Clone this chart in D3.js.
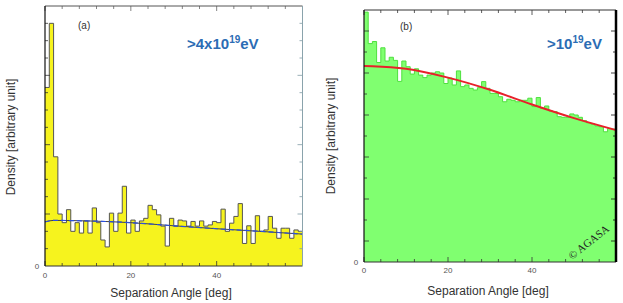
<!DOCTYPE html>
<html lang="en">
<head>
<meta charset="UTF-8">
<title>Separation angle distributions</title>
<script src="https://d3js.org/d3.v7.min.js"></script>
<style>
  body { margin: 0; background: #fff; font-family: "Liberation Sans", Arial, sans-serif; }
  svg { display: block; }
  .tick-label { font-size: 8px; fill: #555; }
  .axis-label { font-size: 12px; fill: #333; }
</style>
</head>
<body>
<div id="chart"></div>
<script>
// densities per 1-degree bin, 0..60 deg (arbitrary units = y tick steps)
const densityA = [10.3, 14.0, 6.3, 3.0, 2.5, 3.25, 2.0, 2.5, 1.9, 2.6,
                  1.9, 3.35, 2.5, 1.5, 1.1, 3.05, 2.0, 3.05, 4.6, 1.9,
                  2.65, 2.0, 2.6, 2.75, 3.5, 3.25, 2.95, 2.3, 1.15, 2.75,
                  2.3, 2.65, 2.6, 2.3, 2.57, 2.3, 2.6, 2.3, 2.37, 2.57,
                  2.5, 3.28, 2.0, 2.47, 2.86, 3.6, 1.3, 2.32, 1.3, 2.9,
                  2.0, 2.08, 2.86, 2.18, 1.6, 2.18, 2.18, 1.6, 2.08, 2.0];
const densityB = [11.9, 10.4, 10.5, 9.5, 10.2, 9.57, 9.75, 9.6, 8.6, 9.57,
                  9.3, 8.95, 9.2, 8.9, 8.78, 8.9, 9.0, 9.06, 9.0, 8.5,
                  8.76, 8.43, 9.1, 8.35, 8.43, 8.27, 8.19, 8.3, 8.59, 8.27,
                  8.03, 8.03, 7.87, 7.63, 7.75, 7.7, 7.63, 7.7, 7.7, 7.8,
                  7.4, 7.83, 7.32, 7.43, 7.19, 7.16, 6.92, 6.89, 6.89, 7.05,
                  7.0, 6.89, 6.73, 6.63, 6.57, 6.48, 6.44, 6.2, 6.36, 6.33];
const fitAngles = [0, 2, 10, 20, 30, 40, 50, 60];
const fitA = [2.55, 2.63, 2.6, 2.5, 2.32, 2.15, 2.0, 1.84];
const fitB = [9.33, 9.32, 9.2, 8.78, 8.2, 7.5, 6.85, 6.28];
const xTickLabels = [0, 20, 40];

const W = 623, H = 303;
const svg = d3.select("#chart").append("svg").attr("width", W).attr("height", H);

function drawPanel(opt) {
  const x = d3.scaleLinear().domain([0, 60]).range(opt.xr);
  const y = d3.scaleLinear().domain([0, opt.yMax]).range(opt.yr);
  const g = svg.append("g");

  // histogram as step area
  const pts = opt.data.map((v, i) => [i, v]);
  pts.push([60, opt.data[opt.data.length - 1]]);
  g.append("path")
    .datum(pts)
    .attr("fill", opt.fill)
    .attr("d", d3.area().curve(d3.curveStepAfter)
      .x(d => x(d[0])).y0(y(0)).y1(d => y(d[1])));
  g.append("path")
    .datum(pts)
    .attr("fill", "none")
    .attr("stroke", opt.stroke)
    .attr("stroke-width", 1)
    .attr("d", d3.line().curve(d3.curveStepAfter)
      .x(d => x(d[0])).y(d => y(d[1])));

  // fitted curves
  const fit = fitAngles.map((a, i) => [a, opt.fit[i]]);
  const fitLine = d3.line().curve(d3.curveMonotoneX).x(d => x(d[0])).y(d => y(d[1]));
  opt.fitStyles.forEach(s => {
    g.append("path").datum(fit)
      .attr("fill", "none")
      .attr("stroke", s.color)
      .attr("stroke-width", s.width)
      .attr("stroke-dasharray", s.dash || null)
      .attr("d", fitLine);
  });

  const [x0, x1] = opt.xr, [yb, yt] = opt.yr;

  // ticks (inward) on all four sides
  d3.range(0, 61, 4).forEach(a => {
    const len = a % 20 === 0 ? 5 : 3;
    g.append("line").attr("x1", x(a)).attr("x2", x(a)).attr("y1", yb).attr("y2", yb - len)
      .attr("stroke", "#333").attr("stroke-width", 0.8);
    g.append("line").attr("x1", x(a)).attr("x2", x(a)).attr("y1", yt).attr("y2", yt + len)
      .attr("stroke", opt.topTick).attr("stroke-width", 0.8);
  });
  d3.range(1, opt.yMax).forEach(v => {
    const len = opt.majorY(v) ? 5 : 3;
    g.append("line").attr("x1", x0).attr("x2", x0 + len).attr("y1", y(v)).attr("y2", y(v))
      .attr("stroke", "#333").attr("stroke-width", 0.8);
    g.append("line").attr("x1", x1).attr("x2", x1 - len).attr("y1", y(v)).attr("y2", y(v))
      .attr("stroke", opt.rightTick).attr("stroke-width", 0.8);
  });

  // frame
  g.append("line").attr("x1", x0).attr("x2", x1).attr("y1", yb).attr("y2", yb)
    .attr("stroke", "#333").attr("stroke-width", 1.2);
  g.append("line").attr("x1", x0).attr("x2", x1).attr("y1", yt).attr("y2", yt)
    .attr("stroke", opt.topColor).attr("stroke-width", 1);
  g.append("line").attr("x1", x0).attr("x2", x0).attr("y1", yb).attr("y2", yt)
    .attr("stroke", "#111").attr("stroke-width", 1.2);
  g.append("line").attr("x1", x1).attr("x2", x1).attr("y1", yb).attr("y2", yt)
    .attr("stroke", opt.rightColor).attr("stroke-width", opt.rightWidth);

  // tick labels
  g.selectAll(".xl").data(xTickLabels).enter().append("text")
    .attr("class", "tick-label")
    .attr("x", d => x(d)).attr("y", yb + opt.xLabelDy)
    .attr("text-anchor", "middle")
    .text(d => d);
  g.append("text").attr("class", "tick-label")
    .attr("x", x0 - 8).attr("y", yb + 3)
    .attr("text-anchor", "middle").text("0");

  // axis titles
  g.append("text").attr("class", "axis-label")
    .attr("x", opt.xTitle[0]).attr("y", opt.xTitle[1])
    .attr("text-anchor", "middle").text("Separation Angle [deg]");
  g.append("text").attr("class", "axis-label")
    .attr("transform", `translate(${opt.yTitle[0]},${opt.yTitle[1]}) rotate(-90)`)
    .attr("text-anchor", "middle").attr("dy", "0.35em")
    .text("Density [arbitrary unit]");

  // panel tag and energy label
  g.append("text").attr("x", opt.tag[0]).attr("y", opt.tag[1])
    .style("font-size", "10px").attr("fill", "#333").text(opt.tagText);
  const e = g.append("text").attr("x", opt.energy[0]).attr("y", opt.energy[1])
    .style("font-size", "15px").style("font-weight", "bold").attr("fill", "#2b6cb4");
  e.append("tspan").text(opt.energyText);
  e.append("tspan").attr("dy", -6).style("font-size", "10px").text("19");
  e.append("tspan").attr("dy", 6).text("eV");
  return g;
}

drawPanel({
  data: densityA, fit: fitA, yMax: 15,
  xr: [45, 302.5], yr: [266, 6],
  fill: "#f6f31e", stroke: "#555",
  fitStyles: [{ color: "#444", width: 1 }, { color: "#2a4fe0", width: 1.2, dash: "5,3" }],
  topTick: "#666", rightTick: "#7f9aa5", topColor: "#555", rightColor: "#8aa3ac", rightWidth: 1,
  majorY: v => v % 4 === 3,
  xLabelDy: 12,
  xTitle: [171, 297], yTitle: [11, 137],
  tag: [78, 29], tagText: "(a)",
  energy: [187, 49], energyText: ">4x10"
});

const gb = drawPanel({
  data: densityB, fit: fitB, yMax: 12,
  xr: [364, 616], yr: [262, 10],
  fill: "#80ff70", stroke: "#4ee03e",
  fitStyles: [{ color: "#e8202a", width: 2 }],
  topTick: "#333", rightTick: "#111", topColor: "#333", rightColor: "#000", rightWidth: 2.5,
  majorY: v => v % 2 === 1,
  xLabelDy: 11,
  xTitle: [488, 295], yTitle: [331, 136],
  tag: [400, 30], tagText: "(b)",
  energy: [547, 49], energyText: ">10"
});

gb.append("text")
  .attr("transform", "translate(591,245) rotate(-38)")
  .attr("text-anchor", "middle")
  .style("font-family", "'Liberation Serif', serif")
  .style("font-size", "11px")
  .attr("fill", "#222")
  .text("\u00A9 AGASA");
</script>
</body>
</html>
